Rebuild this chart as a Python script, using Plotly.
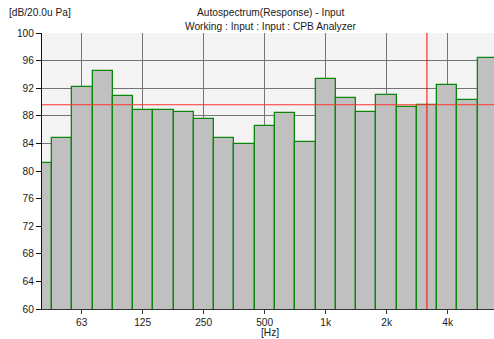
import math
import plotly.graph_objects as go

# 1/3-octave band levels, CPB analyzer autospectrum
band_labels = ["40", "50", "63", "80", "100", "125", "160", "200", "250", "315",
               "400", "500", "630", "800", "1k", "1.25k", "1.6k", "2k", "2.5k",
               "3.15k", "4k", "5k", "6.3k"]
band_nominal_hz = [40, 50, 63, 80, 100, 125, 160, 200, 250, 315, 400, 500, 630,
                   800, 1000, 1250, 1600, 2000, 2500, 3150, 4000, 5000, 6300]
level_db = [81.1, 84.8, 92.2, 94.5, 90.9, 88.8, 88.8, 88.5, 87.6, 84.8, 83.9,
            86.5, 88.4, 84.2, 93.3, 90.6, 88.6, 91.0, 89.3, 89.6, 92.5, 90.3, 96.4]

tick_hz = [62.5, 125, 250, 500, 1000, 2000, 4000]
tick_text = ["63", "125", "250", "500", "1k", "2k", "4k"]

cursor_index = 19  # 3.15 kHz band

# exact base-10 band centres (log10 units), one band = 0.1 decade
band_log = [round(10 * math.log10(f)) / 10 for f in band_nominal_hz]

W, H = 494, 339
ML, MR, MT, MB = 42, 0, 33, 30
PW, PH = W - ML - MR, H - MT - MB


def px(x):
    return (x - ML) / PW


def py(y):
    return (H - MB - y) / PH


FONT = "Liberation Sans, Arial, sans-serif"

fig = go.Figure()
# filled bands
fig.add_trace(go.Bar(
    x=band_log, y=level_db, width=0.1,
    marker=dict(color="#c0c0c0", line=dict(width=0)),
    customdata=band_labels,
    hovertemplate="%{customdata} Hz: %{y:.1f} dB<extra></extra>",
))
# band outlines drawn on top so every edge stays visible
fig.add_trace(go.Bar(
    x=band_log, y=level_db, width=0.1,
    marker=dict(color="rgba(192,192,192,0)", line=dict(color="#0a870a", width=1.3)),
    hoverinfo="skip",
))

cx = band_log[cursor_index]
cy = level_db[cursor_index]
fig.add_shape(type="line", xref="x", yref="paper", x0=cx, x1=cx, y0=0, y1=1,
              line=dict(color="#ff0000", width=1), layer="above")
fig.add_shape(type="line", xref="paper", yref="y", x0=0, x1=1, y0=cy, y1=cy,
              line=dict(color="#ff3030", width=1.2), layer="above")

annots = [
    dict(text="[dB/20.0u Pa]", x=px(7), y=py(13), xanchor="left"),
    dict(text="Autospectrum(Response) - Input", x=px(270), y=py(12), xanchor="center"),
    dict(text="Working : Input : Input : CPB Analyzer", x=px(270), y=py(26), xanchor="center"),
    dict(text="[Hz]", x=px(270), y=py(332.5), xanchor="center"),
]
for a in annots:
    fig.add_annotation(xref="paper", yref="paper", showarrow=False, yanchor="middle",
                       font=dict(family=FONT, size=10.2, color="#1a1a1a"), **a)

fig.update_layout(
    width=W, height=H,
    margin=dict(l=ML, r=MR, t=MT, b=MB, pad=0),
    paper_bgcolor="white",
    plot_bgcolor="#f3f3f3",
    showlegend=False,
    barmode="overlay",
    bargap=0,
    font=dict(family=FONT, size=10.2, color="#1a1a1a"),
    xaxis=dict(
        range=[1.6, 1.6 + PW / 202.6],
        tickmode="array", tickvals=[math.log10(t) for t in tick_hz], ticktext=tick_text,
        showgrid=True, gridcolor="#747474", gridwidth=1,
        ticks="outside", ticklen=4, tickcolor="#333333",
        showline=True, linecolor="#333333", linewidth=1,
        zeroline=False, fixedrange=True,
    ),
    yaxis=dict(
        range=[60, 100], tick0=60, dtick=4,
        showgrid=True, gridcolor="#747474", gridwidth=1,
        ticks="outside", ticklen=5, tickcolor="#111111",
        showline=True, linecolor="#111111", linewidth=1,
        zeroline=False, fixedrange=True,
    ),
)

fig.write_html("out.html")
